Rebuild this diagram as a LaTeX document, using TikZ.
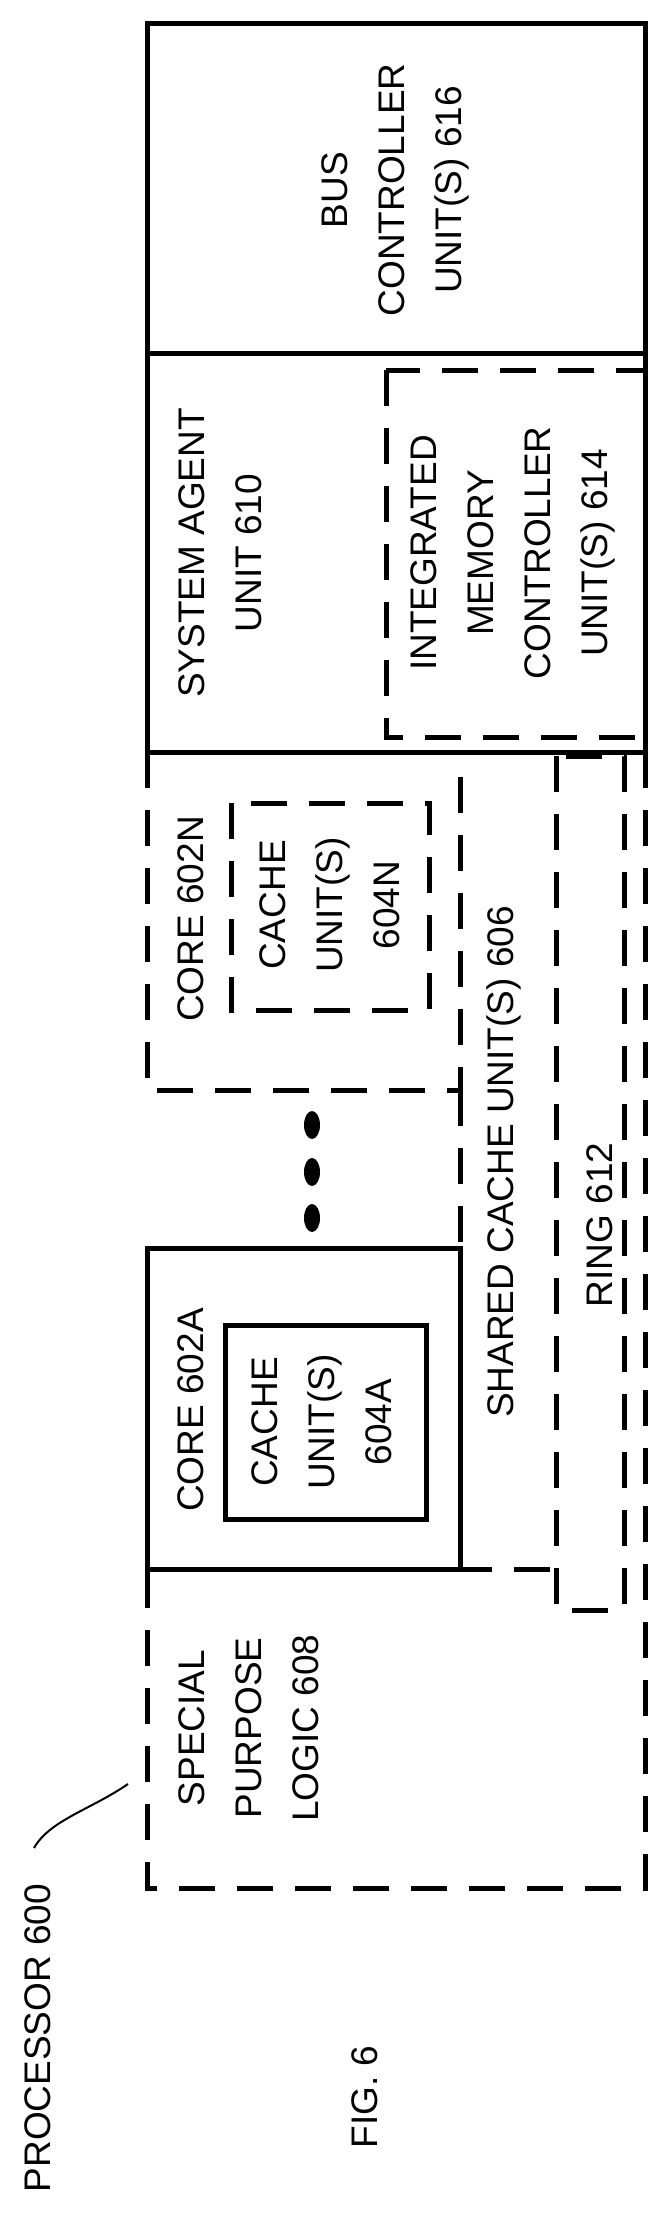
\documentclass[tikz,border=0pt]{standalone}
\usepackage{fontspec}
\setmainfont{Liberation Sans}
\begin{document}
\begin{tikzpicture}[x=1pt,y=-1pt,
  solidbox/.style={draw,line width=5pt},
  dashbox/.style={draw,line width=5pt,dash pattern=on 36pt off 22pt},
  lbl/.style={rotate=90,align=center,font=\fontsize{37}{57}\selectfont,inner sep=0pt}]
\useasboundingbox (0,0) rectangle (662,2223);
% boxes
\draw[solidbox] (147,24) rectangle (645,353);
\draw[solidbox] (147,353) rectangle (645,752);
\draw[dashbox] (386,370) rectangle (645,737);
\draw[dashbox] (147,752) rectangle (460,1090);
\draw[dashbox] (231,803) rectangle (429,1010);
\draw[dashbox] (460,752) -- (556,752);
\draw[dashbox] (460,1090) -- (460,1569);
\draw[dashbox] (556,756) rectangle (624,1610);
\draw[dashbox] (645,752) -- (645,1888) -- (147,1888) -- (147,1569) -- (556,1569);
\draw[solidbox,fill=white] (147,1248) rectangle (460,1569);
\draw[dashbox] (460,1248) -- (460,1569);
\draw[solidbox] (225,1325) rectangle (426,1519);
% dots
\foreach \yy/\n in {1125/a,1172/b,1218/c} \fill (312,\yy) ellipse (8pt and 14pt);
% labels
\node[lbl] (bus) at (395,190) {BUS\\CONTROLLER\\UNIT(S) 616};
\node[lbl] (sa) at (220,553) {SYSTEM AGENT\\UNIT 610};
\node[lbl] (imc) at (513,553) {INTEGRATED\\MEMORY\\CONTROLLER\\UNIT(S) 614};
\node[lbl] (cn) at (191,919) {CORE 602N};
\node[lbl] (ccn) at (330,905) {CACHE\\UNIT(S)\\604N};
\node[lbl] (sc) at (504,1162) {SHARED CACHE UNIT(S) 606};
\node[lbl] (ring) at (600,1225) {RING 612};
\node[lbl] (ca) at (191,1410) {CORE 602A};
\node[lbl] (cca) at (322,1422) {CACHE\\UNIT(S)\\604A};
\node[lbl] (sp) at (249,1728) {SPECIAL\\PURPOSE\\LOGIC 608};
\node[lbl] (proc) at (38,2038) {PROCESSOR 600};
\node[lbl] (fig) at (365,2097) {FIG. 6};
\coordinate (sq1) at (34,1848);
\coordinate (sq2) at (128,1784);
\draw[line width=2pt] (sq1) .. controls (50,1820) and (90,1810) .. (sq2);
\end{tikzpicture}
\end{document}
